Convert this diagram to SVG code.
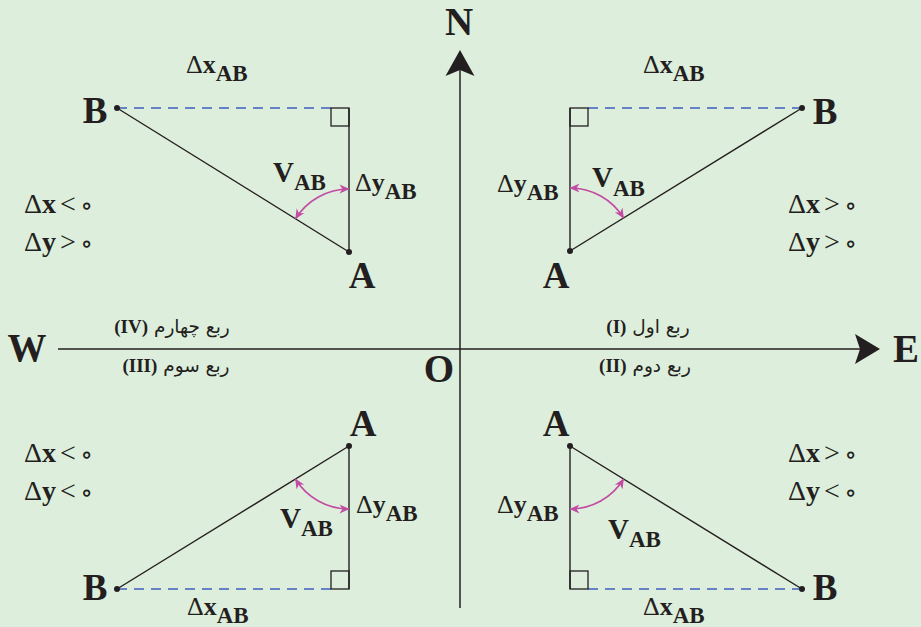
<svg xmlns="http://www.w3.org/2000/svg" width="921" height="627" viewBox="0 0 921 627">
<style>
.bg{fill:#deeedc}
.ln{stroke:#231f20;stroke-width:1.4;fill:none}
.ax{stroke:#231f20;stroke-width:1.5;fill:none}
.dash{stroke:#3c5fbd;stroke-width:1.3;stroke-dasharray:10 7;fill:none}
.sq{stroke:#231f20;stroke-width:1.3;fill:none}
.arc{stroke:#c24ba3;stroke-width:1.6;fill:none;marker-start:url(#mh);marker-end:url(#mh)}
.dot{fill:#231f20}
.t{font-family:"Liberation Serif","Times New Roman",serif;fill:#231f20}
.big{font-size:39px;font-weight:bold;text-anchor:middle}
.pt{font-size:37px;font-weight:bold;text-anchor:middle}
.lab{font-size:26px}
.cmp{font-size:28px;word-spacing:-3px}
.d{font-weight:normal}
.b{font-weight:bold}
.v{font-size:29px;font-weight:bold}
.sub{font-size:23px;font-weight:bold}
.fa{font-family:"DejaVu Sans",sans-serif;font-size:18.5px;fill:#231f20;text-anchor:middle;direction:rtl}
.rn{font-family:"Liberation Serif",serif;font-weight:bold;font-size:19px}
.z{font-family:"DejaVu Sans",sans-serif;font-size:22px;font-weight:bold}
</style>
<defs>
<marker id="mh" viewBox="0 0 10 10" refX="9.5" refY="5" markerWidth="10" markerHeight="10" markerUnits="userSpaceOnUse" orient="auto-start-reverse">
<path d="M0,0.5 L10,5 L0,9.5 L3,5 z" fill="#c24ba3"/>
</marker>
</defs>
<rect class="bg" x="0" y="0" width="921" height="627"/>

<g id="connectors">
<line class="ax" x1="460" y1="70" x2="460" y2="608"/>
<polygon points="460,50 474.5,76 460,70 445.5,76" fill="#231f20"/>
<line class="ax" x1="58" y1="349" x2="860" y2="349"/>
<polygon points="880,349 855,334 860,349 855,364" fill="#231f20"/>
</g>

<g id="axis-labels">
<text class="t big" x="459" y="35">N</text>
<text class="t big" x="906" y="362">E</text>
<text class="t big" x="27" y="361">W</text>
<text class="t big" x="439" y="382">O</text>
</g>

<g id="quadrant-I">
<line class="ln" x1="570" y1="108" x2="570" y2="251"/>
<line class="ln" x1="570" y1="251" x2="802" y2="108"/>
<line class="dash" x1="588" y1="108" x2="802" y2="108"/>
<rect class="sq" x="570" y="108" width="18" height="18"/>
<path class="arc" d="M570,188 A63,63 0 0 1 623.6,218"/>
<circle class="dot" cx="570" cy="251" r="3"/>
<circle class="dot" cx="802" cy="108" r="3"/>
<text class="t pt" x="556" y="288">A</text>
<text class="t pt" x="825" y="124">B</text>
<text class="t lab" x="643" y="73"><tspan class="d">Δ</tspan><tspan class="b">x</tspan><tspan class="sub" dy="8">AB</tspan></text>
<text class="t lab" x="497" y="192"><tspan class="d">Δ</tspan><tspan class="b">y</tspan><tspan class="sub" dy="8">AB</tspan></text>
<text class="t" x="592" y="187"><tspan class="v">V</tspan><tspan class="sub" dy="9">AB</tspan></text>
<text class="t cmp" x="788" y="213"><tspan class="d">Δ</tspan><tspan class="b">x</tspan> &gt; <tspan class="z">∘</tspan></text>
<text class="t cmp" x="788" y="251"><tspan class="d">Δ</tspan><tspan class="b">y</tspan> &gt; <tspan class="z">∘</tspan></text>
<text class="fa" x="648" y="333">ربع اول <tspan class="rn">(I)</tspan></text>
</g>

<g id="quadrant-II">
<line class="ln" x1="570" y1="446" x2="570" y2="589"/>
<line class="ln" x1="570" y1="446" x2="802" y2="589"/>
<line class="dash" x1="588" y1="589" x2="802" y2="589"/>
<rect class="sq" x="570" y="571" width="18" height="18"/>
<path class="arc" d="M570,509 A63,63 0 0 0 623.6,479"/>
<circle class="dot" cx="570" cy="446" r="3"/>
<circle class="dot" cx="802" cy="589" r="3"/>
<text class="t pt" x="556" y="436">A</text>
<text class="t pt" x="825" y="600">B</text>
<text class="t lab" x="643" y="615"><tspan class="d">Δ</tspan><tspan class="b">x</tspan><tspan class="sub" dy="8">AB</tspan></text>
<text class="t lab" x="497" y="513"><tspan class="d">Δ</tspan><tspan class="b">y</tspan><tspan class="sub" dy="8">AB</tspan></text>
<text class="t" x="608" y="539"><tspan class="v">V</tspan><tspan class="sub" dy="8">AB</tspan></text>
<text class="t cmp" x="788" y="462"><tspan class="d">Δ</tspan><tspan class="b">x</tspan> &gt; <tspan class="z">∘</tspan></text>
<text class="t cmp" x="788" y="500"><tspan class="d">Δ</tspan><tspan class="b">y</tspan> &lt; <tspan class="z">∘</tspan></text>
<text class="fa" x="645" y="372">ربع دوم <tspan class="rn">(II)</tspan></text>
</g>

<g id="quadrant-III">
<line class="ln" x1="349" y1="446" x2="349" y2="589"/>
<line class="ln" x1="349" y1="446" x2="117" y2="589"/>
<line class="dash" x1="117" y1="589" x2="331" y2="589"/>
<rect class="sq" x="331" y="571" width="18" height="18"/>
<path class="arc" d="M295.4,479 A63,63 0 0 0 349,509"/>
<circle class="dot" cx="349" cy="446" r="3"/>
<circle class="dot" cx="117" cy="589" r="3"/>
<text class="t pt" x="363" y="436">A</text>
<text class="t pt" x="95" y="600">B</text>
<text class="t lab" x="187" y="615"><tspan class="d">Δ</tspan><tspan class="b">x</tspan><tspan class="sub" dy="8">AB</tspan></text>
<text class="t lab" x="356" y="513"><tspan class="d">Δ</tspan><tspan class="b">y</tspan><tspan class="sub" dy="8">AB</tspan></text>
<text class="t" x="280" y="528"><tspan class="v">V</tspan><tspan class="sub" dy="8">AB</tspan></text>
<text class="t cmp" x="24" y="462"><tspan class="d">Δ</tspan><tspan class="b">x</tspan> &lt; <tspan class="z">∘</tspan></text>
<text class="t cmp" x="24" y="500"><tspan class="d">Δ</tspan><tspan class="b">y</tspan> &lt; <tspan class="z">∘</tspan></text>
<text class="fa" x="176" y="372">ربع سوم <tspan class="rn">(III)</tspan></text>
</g>

<g id="quadrant-IV">
<line class="ln" x1="349" y1="108" x2="349" y2="252"/>
<line class="ln" x1="349" y1="252" x2="117" y2="108"/>
<line class="dash" x1="117" y1="108" x2="331" y2="108"/>
<rect class="sq" x="331" y="108" width="18" height="18"/>
<path class="arc" d="M349,189 A63,63 0 0 0 295.5,218.8"/>
<circle class="dot" cx="349" cy="252" r="3"/>
<circle class="dot" cx="117" cy="108" r="3"/>
<text class="t pt" x="362" y="288">A</text>
<text class="t pt" x="95" y="123">B</text>
<text class="t lab" x="186" y="73"><tspan class="d">Δ</tspan><tspan class="b">x</tspan><tspan class="sub" dy="8">AB</tspan></text>
<text class="t lab" x="355" y="191"><tspan class="d">Δ</tspan><tspan class="b">y</tspan><tspan class="sub" dy="8">AB</tspan></text>
<text class="t" x="273" y="182"><tspan class="v">V</tspan><tspan class="sub" dy="8">AB</tspan></text>
<text class="t cmp" x="24" y="213"><tspan class="d">Δ</tspan><tspan class="b">x</tspan> &lt; <tspan class="z">∘</tspan></text>
<text class="t cmp" x="24" y="251"><tspan class="d">Δ</tspan><tspan class="b">y</tspan> &gt; <tspan class="z">∘</tspan></text>
<text class="fa" x="172" y="333">ربع چهارم <tspan class="rn">(IV)</tspan></text>
</g>
</svg>
